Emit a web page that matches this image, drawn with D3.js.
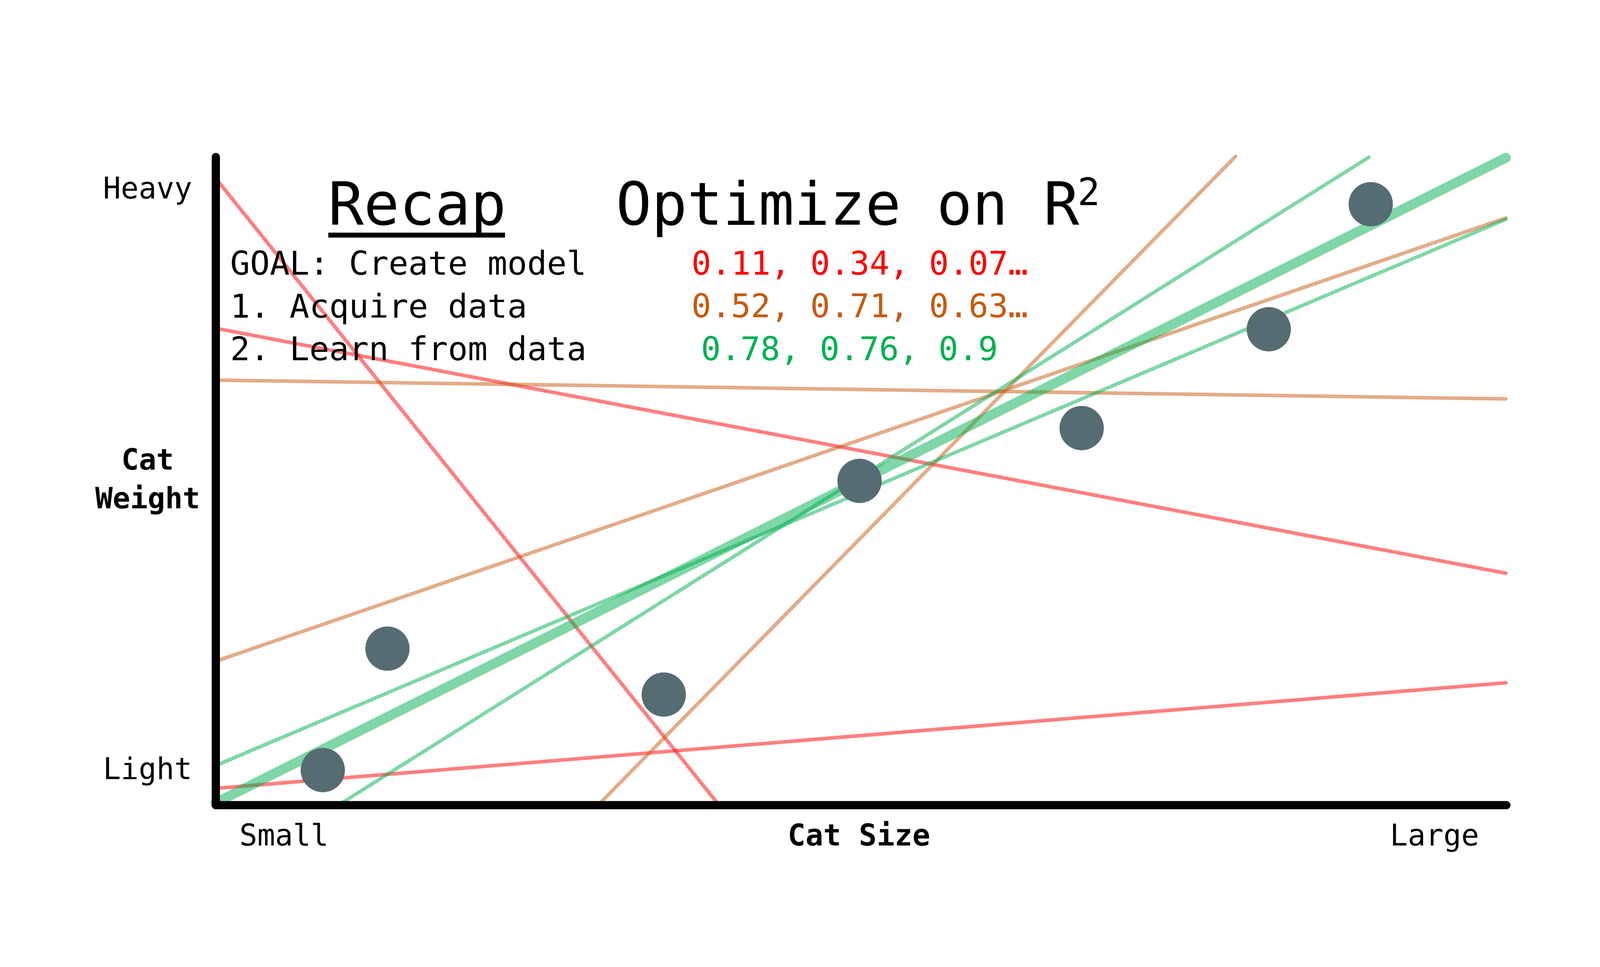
<!DOCTYPE html>
<html>
<head>
<meta charset="utf-8">
<script src="https://cdn.jsdelivr.net/npm/d3@7"></script>
<style>
  html, body { margin: 0; padding: 0; background: #fff; }
  svg { display: block; }
</style>
</head>
<body>
<script>
// cat size / cat weight, both on a 0-100 scale (small..large, light..heavy)
const catSize   = [8.33, 13.34, 34.75, 49.92, 67.13, 81.63, 89.53];
const catWeight = [5.33, 24.07, 16.98, 49.95, 58.09, 73.34, 92.63];

// candidate fits: [x1, y1, x2, y2] in the same units
const redFits    = [[0, 96.7, 39.0, 0], [0, 73.5, 100, 35.7], [0, 2.5, 100, 18.8]];
const orangeFits = [[0, 65.5, 100, 62.6], [0, 22.1, 100, 90.5], [29.7, 0, 79.05, 100]];
const greenFits  = [[0, 6.0, 100, 90.3], [9.6, 0, 89.4, 99.9]];
const bestFit    = [0, 0.25, 100, 99.8];

const xLabels = ["Small", "Large"];
const yLabels = ["Heavy", "Light"];
const goalLines  = ["GOAL: Create model", "1. Acquire data", "2. Learn from data"];
const scoreLines = ["0.11, 0.34, 0.07…", "0.52, 0.71, 0.63…", "0.78, 0.76, 0.9"];
const scoreColors = ["#ff0000", "#c55a11", "#00b050"];

const W = 1568, H = 882;
const font = "'DejaVu Sans Mono', monospace";

const svg = d3.select("body")
  .append("svg")
  .attr("width", 4400)
  .attr("height", 2475)
  .attr("viewBox", `0 0 ${W} ${H}`);

const x = d3.scaleLinear().domain([0, 100]).range([196.4, 1373.8]);
const y = d3.scaleLinear().domain([0, 100]).range([733.9, 142.7]);

// fit lines
function drawFits(fits, color, width) {
  svg.append("g").selectAll("line")
    .data(fits)
    .enter()
    .append("line")
    .attr("x1", d => x(d[0]))
    .attr("y1", d => y(d[1]))
    .attr("x2", d => x(d[2]))
    .attr("y2", d => y(d[3]))
    .attr("stroke", color)
    .attr("stroke-opacity", 0.5)
    .attr("stroke-width", width)
    .attr("stroke-linecap", "round");
}
drawFits(redFits, "#ff0000", 3.3);
drawFits(orangeFits, "#c55a11", 3.3);
drawFits(greenFits, "#00b050", 3.3);
drawFits([bestFit], "#00b050", 9);

// axes, no ticks
const axisStyle = g => {
  g.select(".domain")
    .attr("stroke", "#000")
    .attr("stroke-width", 7.5)
    .attr("stroke-linecap", "round");
  g.selectAll(".tick").remove();
};
svg.append("g")
  .attr("transform", `translate(0, ${y(0)})`)
  .call(d3.axisBottom(x).tickValues([]).tickSizeOuter(0))
  .call(axisStyle);
svg.append("g")
  .attr("transform", `translate(${x(0)}, 0)`)
  .call(d3.axisLeft(y).tickValues([]).tickSizeOuter(0))
  .call(axisStyle);

// data points
svg.append("g").selectAll("circle")
  .data(catSize)
  .enter()
  .append("circle")
  .attr("cx", d => x(d))
  .attr("cy", (d, i) => y(catWeight[i]))
  .attr("r", 20.2)
  .attr("fill", "#566c73");

// axis end labels
svg.append("g").selectAll("text")
  .data(xLabels)
  .enter()
  .append("text")
  .attr("x", (d, i) => i === 0 ? 259.1 : 1308.7)
  .attr("y", 771)
  .attr("text-anchor", "middle")
  .style("font-family", font)
  .style("font-size", "27px")
  .text(d => d);

svg.append("g").selectAll("text")
  .data(yLabels)
  .enter()
  .append("text")
  .attr("x", 94)
  .attr("y", (d, i) => i === 0 ? 181.2 : 710.7)
  .style("font-family", font)
  .style("font-size", "27px")
  .text(d => d);

// axis titles
svg.append("text")
  .attr("x", 783.6)
  .attr("y", 771)
  .attr("text-anchor", "middle")
  .style("font-family", font)
  .style("font-size", "27px")
  .style("font-weight", "bold")
  .text("Cat Size");

svg.append("text")
  .attr("x", 134.7)
  .attr("y", 428.2)
  .attr("text-anchor", "middle")
  .style("font-family", font)
  .style("font-size", "26.5px")
  .style("font-weight", "bold")
  .text("Cat");
svg.append("text")
  .attr("x", 134.7)
  .attr("y", 463.5)
  .attr("text-anchor", "middle")
  .style("font-family", font)
  .style("font-size", "26.5px")
  .style("font-weight", "bold")
  .text("Weight");

// titles
svg.append("text")
  .attr("x", 380.6)
  .attr("y", 205)
  .attr("text-anchor", "middle")
  .style("font-family", font)
  .style("font-size", "54px")
  .text("Recap");
svg.append("rect")
  .attr("x", 299.5)
  .attr("y", 212.2)
  .attr("width", 161.2)
  .attr("height", 4.5)
  .attr("fill", "#000");

svg.append("text")
  .attr("x", 773.2)
  .attr("y", 205)
  .attr("text-anchor", "middle")
  .style("font-family", font)
  .style("font-size", "54px")
  .text("Optimize on R");
svg.append("text")
  .attr("x", 983)
  .attr("y", 187)
  .style("font-family", font)
  .style("font-size", "34px")
  .text("2");

// recap list + scores
svg.append("g").selectAll("text")
  .data(goalLines)
  .enter()
  .append("text")
  .attr("x", 210)
  .attr("y", (d, i) => 250.6 + i * 39)
  .style("font-family", font)
  .style("font-size", "30px")
  .text(d => d);

svg.append("g").selectAll("text")
  .data(scoreLines)
  .enter()
  .append("text")
  .attr("x", (d, i) => i === 2 ? 639.5 : 630.8)
  .attr("y", (d, i) => 250.4 + i * 39.1)
  .attr("fill", (d, i) => scoreColors[i])
  .style("font-family", font)
  .style("font-size", "30px")
  .text(d => d);
</script>
</body>
</html>
